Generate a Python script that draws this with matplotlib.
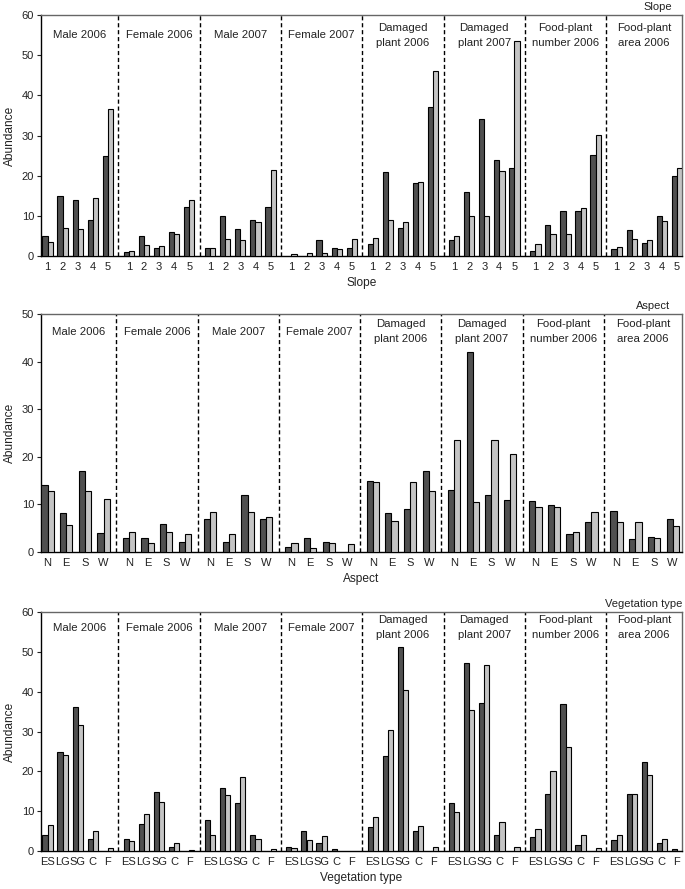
import matplotlib
matplotlib.use("Agg")
import matplotlib.pyplot as plt

plt.rcParams['font.family'] = ['Liberation Sans', 'DejaVu Sans']

groups = ['Male 2006', 'Female 2006', 'Male 2007', 'Female 2007',
          'Damaged\nplant 2006', 'Damaged\nplant 2007',
          'Food-plant\nnumber 2006', 'Food-plant\narea 2006']

slope_cats = ['1', '2', '3', '4', '5']
slope_dark = [[5, 15, 14, 9, 25], [1, 4.9, 2, 5.9, 12.1], [2, 9.9, 6.8, 9, 12.1],
              [0, 0, 4, 2.1, 2.1], [3, 21, 6.9, 18.1, 37], [4, 15.9, 34, 23.9, 22],
              [1.3, 7.6, 11.1, 11.1, 25.1], [1.7, 6.4, 3.2, 9.9, 20]]
slope_light = [[3.4, 6.9, 6.6, 14.4, 36.6], [1.2, 2.7, 2.5, 5.4, 13.9], [2, 4.2, 4, 8.5, 21.5],
               [0.5, 0.7, 0.8, 1.8, 4.2], [4.4, 8.9, 8.4, 18.3, 46.1], [5.1, 10, 9.9, 21.2, 53.6],
               [2.9, 5.6, 5.4, 11.9, 30.1], [2.2, 4.2, 4, 8.7, 22]]

aspect_cats = ['N', 'E', 'S', 'W']
aspect_dark = [[14, 8.1, 17.1, 3.9], [2.9, 2.9, 5.9, 2], [7, 2, 12, 7], [1, 2.9, 2.1, 0],
               [15, 8.1, 9, 17.1], [13.1, 42, 12, 11], [10.8, 9.8, 3.8, 6.4], [8.6, 2.7, 3.1, 6.9]]
aspect_light = [[12.8, 5.7, 12.8, 11.2], [4.1, 1.9, 4.1, 3.7], [8.5, 3.7, 8.5, 7.4], [1.9, 0.8, 1.9, 1.7],
                [14.8, 6.6, 14.8, 12.8], [23.5, 10.4, 23.5, 20.6], [9.4, 9.4, 4.1, 8.3], [6.4, 6.4, 2.9, 5.5]]

veg_cats = ['ES', 'LG', 'SG', 'C', 'F']
veg_dark = [[3.9, 24.9, 36.1, 3, 0], [3, 6.9, 14.9, 1, 0], [7.9, 15.9, 12, 4, 0], [1, 5, 2.1, 0.5, 0],
            [6, 23.9, 51.1, 5, 0], [12.1, 47.2, 37.2, 4, 0], [3.5, 14.4, 36.8, 1.4, 0], [2.8, 14.4, 22.3, 2, 0.6]]
veg_light = [[6.6, 24.1, 31.7, 5, 0.75], [2.5, 9.2, 12.3, 2, 0.3], [4, 14.1, 18.7, 3, 0.5], [0.75, 2.8, 3.8, 0, 0],
             [8.5, 30.5, 40.3, 6.3, 1], [9.8, 35.3, 46.6, 7.2, 1], [5.5, 20, 26.1, 4, 0.75], [4, 14.4, 19.2, 3, 0]]

panels = [
    dict(title='Slope', xlabel='Slope', cats=slope_cats, dark=slope_dark, light=slope_light,
         ymax=60, yticks=range(0, 61, 10), spacing=15.1, bw=5.2, box=[41, 15, 682, 256],
         title_x=0.984, label_y=0.915),
    dict(title='Aspect', xlabel='Aspect', cats=aspect_cats, dark=aspect_dark, light=aspect_light,
         ymax=50, yticks=range(0, 51, 10), spacing=18.7, bw=6.2, box=[41, 314, 682, 552],
         title_x=0.981, label_y=0.925),
    dict(title='Vegetation type', xlabel='Vegetation type', cats=veg_cats, dark=veg_dark, light=veg_light,
         ymax=60, yticks=range(0, 61, 10), spacing=15.1, bw=5.2, box=[41, 612, 682, 851],
         title_x=1.0, label_y=0.935),
]

W, H = 685, 889
fig = plt.figure(figsize=(W / 100, H / 100), dpi=100)

DARK = '#505050'
LIGHT = '#c4c4c4'
TXT = '#222222'
PERIOD = 81.3
OFF = 6.5
XMAX = 641

for p in panels:
    l, t, r, b = p['box']
    ax = fig.add_axes([l / W, 1 - b / H, (r - l) / W, (b - t) / H])
    ncat = len(p['cats'])
    s = p['spacing']
    bw = p['bw']
    ticks, labels = [], []
    for g in range(len(groups)):
        for i, c in enumerate(p['cats']):
            xc = g * PERIOD + OFF + i * s
            ticks.append(xc)
            labels.append(c)
            d = p['dark'][g][i]
            li = p['light'][g][i]
            if d > 0:
                ax.bar(xc - bw / 2, d, width=bw, color=DARK, edgecolor='black', linewidth=0.8, zorder=3)
            if li > 0:
                ax.bar(xc + bw / 2, li, width=bw, color=LIGHT, edgecolor='black', linewidth=0.8, zorder=3)
        last = g * PERIOD + OFF + (ncat - 1) * s
        nxt = (g + 1) * PERIOD + OFF
        right = (last + nxt) / 2 if g < len(groups) - 1 else XMAX
        left = ((g - 1) * PERIOD + OFF + (ncat - 1) * s + g * PERIOD + OFF) / 2 if g > 0 else 0
        ax.text((left + right) / 2, p['ymax'] * p['label_y'], groups[g], ha='center', va='center',
                fontsize=8.2, linespacing=1.6, color=TXT)
        if g < len(groups) - 1:
            ax.axvline(right, color='black', linestyle=(0, (3, 2)), linewidth=1.0, zorder=2)
    ax.set_xlim(0, XMAX)
    ax.set_ylim(0, p['ymax'])
    ax.set_yticks(list(p['yticks']))
    ax.set_xticks(ticks)
    ax.set_xticklabels(labels)
    ax.tick_params(axis='x', length=0, labelsize=8, pad=4, colors=TXT)
    ax.tick_params(axis='y', length=3, width=0.8, labelsize=8, pad=2, colors=TXT)
    ax.set_ylabel('Abundance', fontsize=8.6, color=TXT, labelpad=4)
    ax.set_xlabel(p['xlabel'], fontsize=8.6, color=TXT, labelpad=4)
    ax.text(p['title_x'], 1.012, p['title'], transform=ax.transAxes, ha='right', va='bottom',
            fontsize=8, color=TXT)
    for sp in ['top', 'right']:
        ax.spines[sp].set_color('#666666')
        ax.spines[sp].set_linewidth(1.0)
    for sp in ['left', 'bottom']:
        ax.spines[sp].set_color('black')
        ax.spines[sp].set_linewidth(1.0)

fig.savefig('out.png', dpi=100)
